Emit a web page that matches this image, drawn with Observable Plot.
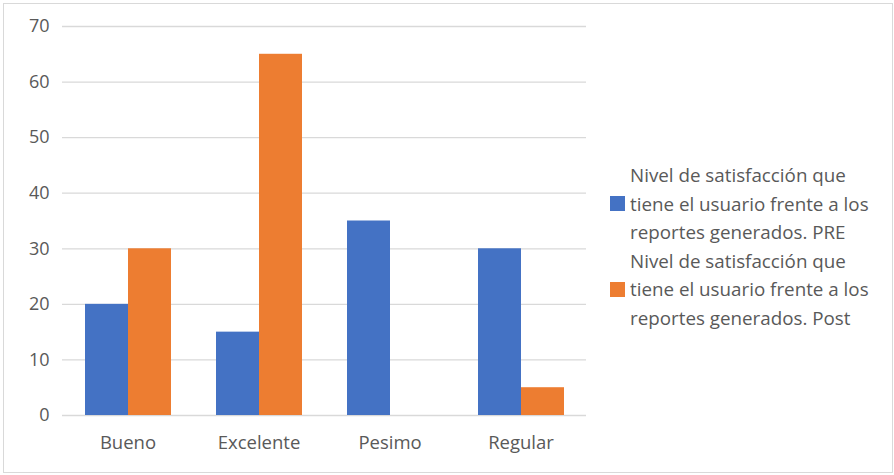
<!DOCTYPE html>
<html>
<head>
<meta charset="utf-8">
<script src="https://cdn.jsdelivr.net/npm/d3@7"></script>
<script src="https://cdn.jsdelivr.net/npm/@observablehq/plot@0.6"></script>
<style>
  html, body { margin: 0; padding: 0; background: #fff; }
  #wrap { position: relative; width: 894px; height: 475px; overflow: hidden; }
  #frame { position: absolute; left: 3px; top: 3px; width: 888px; height: 468px; border: 1px solid #d9d9d9; pointer-events: none; }
  #legend { position: absolute; left: 610px; top: 161px; font-family: "Open Sans", "Noto Sans", sans-serif; font-size: 18.8px; line-height: 28.6px; color: #595959; white-space: nowrap; }
  .item { display: flex; align-items: center; }
  .swatch { width: 15px; height: 15px; margin-right: 5px; flex: none; }
</style>
</head>
<body>
<div id="wrap">
  <div id="chart"></div>
  <div id="legend"></div>
  <div id="frame"></div>
</div>
<script>
// Categories and the two survey series (before / after)
const categories = ["Bueno", "Excelente", "Pesimo", "Regular"];
const seriesNames = [
  "Nivel de satisfacción que tiene el usuario frente a los reportes generados. PRE",
  "Nivel de satisfacción que tiene el usuario frente a los reportes generados. Post"
];
const legendLines = [
  ["Nivel de satisfacción que", "tiene el usuario frente a los", "reportes generados. PRE"],
  ["Nivel de satisfacción que", "tiene el usuario frente a los", "reportes generados. Post"]
];
const preValues = [20, 15, 35, 30];
const postValues = [30, 65, 0, 5];
const yTicks = [0, 10, 20, 30, 40, 50, 60, 70];
const colors = ["#4472C4", "#ED7D31"];

const rows = [];
categories.forEach((c, i) => {
  rows.push({category: c, series: seriesNames[0], value: preValues[i]});
  rows.push({category: c, series: seriesNames[1], value: postValues[i]});
});

const chart = Plot.plot({
  width: 894,
  height: 475,
  marginLeft: 61,
  marginRight: 308,
  marginTop: 26,
  marginBottom: 60,
  style: {fontFamily: "'Open Sans', 'Noto Sans', sans-serif", color: "#595959", background: "transparent"},
  fx: {domain: categories, padding: 0, label: null},
  x: {domain: seriesNames, paddingInner: 0, paddingOuter: 0.5, axis: null},
  y: {domain: [0, 70], label: null},
  color: {domain: seriesNames, range: colors},
  marks: [
    Plot.gridY(yTicks, {stroke: "#d9d9d9", strokeOpacity: 1, strokeWidth: 1.3}),
    Plot.barY(rows, {fx: "category", x: "series", y: "value", fill: "series", inset: 0}),
    Plot.axisY(yTicks, {tickSize: 0, tickPadding: 13, fontSize: 18, fill: "#595959", label: null}),
    Plot.axisFx({anchor: "bottom", tickSize: 0, tickPadding: 20, fontSize: 18.5, fill: "#595959", label: null})
  ]
});
document.getElementById("chart").appendChild(chart);

// Legend, drawn as stacked three-line entries
const legend = d3.select("#legend");
seriesNames.forEach((s, i) => {
  const block = legend.append("div");
  legendLines[i].forEach((line, j) => {
    const row = block.append("div").attr("class", "item");
    row.append("div").attr("class", "swatch")
      .style("background", j === 1 ? colors[i] : "transparent");
    row.append("span").text(line);
  });
});
</script>
</body>
</html>
